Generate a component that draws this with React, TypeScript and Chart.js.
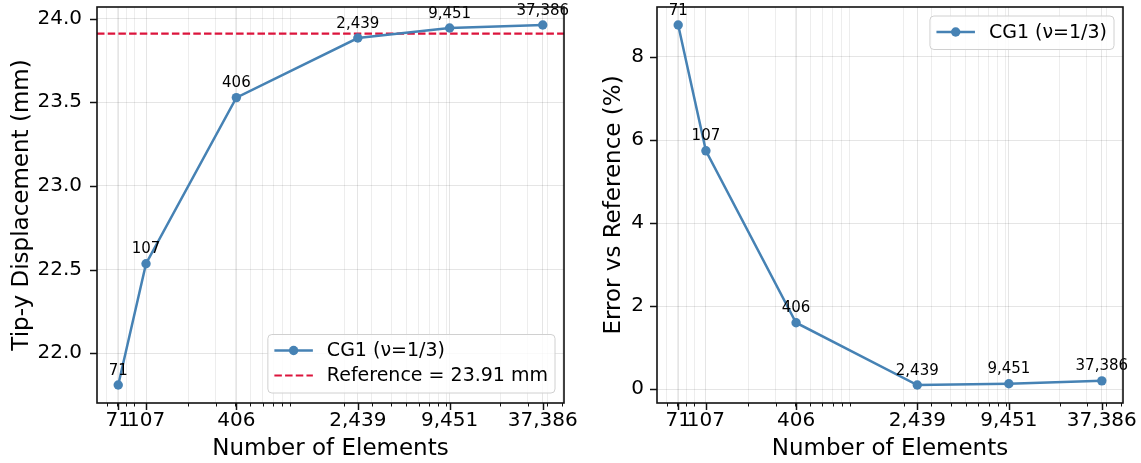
import React, { useEffect, useRef } from "react";
import { Chart, registerables } from "chart.js";

Chart.register(...registerables);

// ---------------- data ----------------
const elements = [71, 107, 406, 2439, 9451, 37386];
const tipDisplacement = [21.81, 22.535, 23.528, 23.884, 23.944, 23.962];
const errorPercent = [8.77, 5.74, 1.6, 0.1, 0.13, 0.2];
const referenceValue = 23.91;
const leftYTicks = [22.0, 22.5, 23.0, 23.5, 24.0];
const rightYTicks = [0, 2, 4, 6, 8];
const minorSubs = [2, 3, 4, 5, 6, 7, 8, 9];

const seriesLabel = "CG1 (ν=1/3)";
const referenceLabel = "Reference = 23.91 mm";
const xTitle = "Number of Elements";
const leftYTitle = "Tip-y Displacement (mm)";
const rightYTitle = "Error vs Reference (%)";

// ---------------- style ----------------
const FONT = "DejaVu Sans";
const TEXT = "#000000";
const BLUE = "#4682b4";
const RED = "#dc143c";
const GRID_MAJOR = "rgba(0,0,0,0.10)";
const GRID_MINOR = "rgba(0,0,0,0.07)";
const TICK_SIZE = 20;
const TITLE_SIZE = 23;
const LEGEND_SIZE = 19;
const ANNOT_SIZE = 15;

const fmtInt = (v: number) => v.toLocaleString("en-US");

function logBounds(values: number[]) {
  const lo = Math.log10(Math.min(...values));
  const hi = Math.log10(Math.max(...values));
  const m = (hi - lo) * 0.05;
  return { min: Math.pow(10, lo - m), max: Math.pow(10, hi + m) };
}
function linBounds(values: number[]) {
  const lo = Math.min(...values);
  const hi = Math.max(...values);
  const m = (hi - lo) * 0.05;
  return { min: lo - m, max: hi + m };
}
function minorTicks(min: number, max: number) {
  const out: number[] = [];
  for (let d = Math.floor(Math.log10(min)); d <= Math.ceil(Math.log10(max)); d++) {
    for (const s of minorSubs) {
      const v = s * Math.pow(10, d);
      if (v >= min && v <= max) out.push(v);
    }
  }
  return out;
}

type LegendItem = { label: string; kind: "series" | "ref" };

type PanelCfg = {
  yValues: number[];
  yTicks: number[];
  yFmt: (v: number) => string;
  yTitle: string;
  yAxisWidth: number;
  yTitlePad: number;
  yTickPad: number;
  paddingRight: number;
  legendItems: LegendItem[];
  legendCorner: "lower right" | "upper right";
  reference?: number;
};

function makeChart(canvas: HTMLCanvasElement, cfg: PanelCfg) {
  const xb = logBounds(elements);
  const yb = linBounds(cfg.yValues);
  const majorSet = new Set(elements);
  const xTickValues = [...elements, ...minorTicks(xb.min, xb.max)].sort((a, b) => a - b);

  const panelPlugin = {
    id: "panelDeco",
    beforeDatasetsDraw(chart: any) {
      if (cfg.reference === undefined) return;
      const { ctx, chartArea: a, scales } = chart;
      const y = scales.y.getPixelForValue(cfg.reference);
      ctx.save();
      ctx.beginPath();
      ctx.rect(a.left, a.top, a.right - a.left, a.bottom - a.top);
      ctx.clip();
      ctx.strokeStyle = RED;
      ctx.lineWidth = 2.2;
      ctx.setLineDash([7.5, 3.2]);
      ctx.beginPath();
      ctx.moveTo(a.left, y);
      ctx.lineTo(a.right, y);
      ctx.stroke();
      ctx.restore();
    },
    afterDatasetsDraw(chart: any) {
      const { ctx } = chart;
      const meta = chart.getDatasetMeta(0);
      ctx.save();
      ctx.font = `${ANNOT_SIZE}px "${FONT}"`;
      ctx.fillStyle = TEXT;
      ctx.textAlign = "center";
      ctx.textBaseline = "alphabetic";
      meta.data.forEach((pt: any, i: number) => {
        ctx.fillText(fmtInt(elements[i]), pt.x, pt.y - 10.5);
      });
      ctx.restore();
    },
    afterDraw(chart: any) {
      const { ctx, chartArea: a, scales } = chart;
      ctx.save();
      // tick marks
      ctx.strokeStyle = "#111";
      scales.x.ticks.forEach((t: any) => {
        const major = majorSet.has(t.value);
        const px = Math.round(scales.x.getPixelForValue(t.value)) + 0.5;
        ctx.lineWidth = major ? 1.5 : 1;
        ctx.beginPath();
        ctx.moveTo(px, a.bottom);
        ctx.lineTo(px, a.bottom + (major ? 7 : 3.5));
        ctx.stroke();
      });
      scales.y.ticks.forEach((t: any) => {
        const py = Math.round(scales.y.getPixelForValue(t.value)) + 0.5;
        ctx.lineWidth = 1.5;
        ctx.beginPath();
        ctx.moveTo(a.left, py);
        ctx.lineTo(a.left - 7, py);
        ctx.stroke();
      });
      // frame
      ctx.strokeStyle = "#111";
      ctx.lineWidth = 1.6;
      ctx.strokeRect(a.left, a.top, a.right - a.left, a.bottom - a.top);

      // legend
      ctx.font = `${LEGEND_SIZE}px "${FONT}"`;
      const textW = Math.max(...cfg.legendItems.map((it) => ctx.measureText(it.label).width));
      const lineStartPad = 6.5;
      const lineLen = 38.5;
      const gap = 14;
      const w = lineStartPad + lineLen + gap + textW + 7;
      const rowH = 25;
      const h = 16 + (cfg.legendItems.length - 1) * rowH + 17.5;
      const bx = a.right - 9 - w;
      const by = cfg.legendCorner === "lower right" ? a.bottom - 10 - h : a.top + 9;
      ctx.beginPath();
      (ctx as any).roundRect(bx, by, w, h, 4);
      ctx.fillStyle = "rgba(255,255,255,0.8)";
      ctx.fill();
      ctx.strokeStyle = "#d0d0d0";
      ctx.lineWidth = 1;
      ctx.stroke();
      cfg.legendItems.forEach((it, i) => {
        const cy = by + 16 + i * rowH;
        const x0 = bx + lineStartPad;
        ctx.save();
        if (it.kind === "series") {
          ctx.strokeStyle = BLUE;
          ctx.lineWidth = 2.5;
          ctx.beginPath();
          ctx.moveTo(x0, cy);
          ctx.lineTo(x0 + lineLen, cy);
          ctx.stroke();
          ctx.fillStyle = BLUE;
          ctx.beginPath();
          ctx.arc(x0 + lineLen / 2, cy, 4.7, 0, Math.PI * 2);
          ctx.fill();
        } else {
          ctx.strokeStyle = RED;
          ctx.lineWidth = 2.2;
          ctx.setLineDash([7.5, 3.2]);
          ctx.beginPath();
          ctx.moveTo(x0, cy);
          ctx.lineTo(x0 + lineLen, cy);
          ctx.stroke();
        }
        ctx.restore();
        ctx.fillStyle = TEXT;
        ctx.textAlign = "left";
        ctx.textBaseline = "middle";
        ctx.fillText(it.label, x0 + lineLen + gap, cy + 1);
      });
      ctx.restore();
    },
  };

  return new Chart(canvas, {
    type: "line",
    data: {
      datasets: [
        {
          label: seriesLabel,
          data: elements.map((x, i) => ({ x, y: cfg.yValues[i] })),
          borderColor: BLUE,
          backgroundColor: BLUE,
          borderWidth: 2.5,
          pointRadius: 4.7,
          pointBorderWidth: 0,
          pointBackgroundColor: BLUE,
          tension: 0,
          fill: false,
          clip: false as any,
        },
      ],
    },
    options: {
      animation: false,
      responsive: false,
      devicePixelRatio: 1,
      layout: { padding: { top: 7, right: cfg.paddingRight, left: 0, bottom: 0 } },
      plugins: { legend: { display: false }, tooltip: { enabled: false }, title: { display: false } },
      scales: {
        x: {
          type: "logarithmic",
          min: xb.min,
          max: xb.max,
          afterBuildTicks: (scale: any) => {
            scale.ticks = xTickValues.map((v) => ({ value: v }));
          },
          afterFit: (scale: any) => {
            scale.height = 60;
            scale.paddingLeft = 0;
            scale.paddingRight = 0;
          },
          ticks: {
            autoSkip: false,
            maxRotation: 0,
            minRotation: 0,
            padding: 6,
            color: TEXT,
            font: { family: FONT, size: TICK_SIZE },
            callback: (v: any) => (majorSet.has(v) ? fmtInt(v) : ""),
          },
          grid: {
            drawTicks: false,
            lineWidth: 1,
            color: (c: any) => (c.tick && majorSet.has(c.tick.value) ? GRID_MAJOR : GRID_MINOR),
          },
          border: { display: false },
          title: {
            display: true,
            text: xTitle,
            color: TEXT,
            font: { family: FONT, size: TITLE_SIZE },
            padding: { top: 0, bottom: 0 },
          },
        } as any,
        y: {
          type: "linear",
          min: yb.min,
          max: yb.max,
          afterBuildTicks: (scale: any) => {
            scale.ticks = cfg.yTicks.map((v) => ({ value: v }));
          },
          afterFit: (scale: any) => {
            scale.width = cfg.yAxisWidth;
            scale.paddingTop = 0;
            scale.paddingBottom = 0;
          },
          ticks: {
            padding: cfg.yTickPad,
            color: TEXT,
            font: { family: FONT, size: TICK_SIZE },
            callback: (v: any) => cfg.yFmt(Number(v)),
          },
          grid: { drawTicks: false, lineWidth: 1, color: GRID_MAJOR },
          border: { display: false },
          title: {
            display: true,
            text: cfg.yTitle,
            color: TEXT,
            font: { family: FONT, size: TITLE_SIZE },
            padding: { top: cfg.yTitlePad, bottom: 0 },
          },
        } as any,
      },
    } as any,
    plugins: [panelPlugin],
  });
}

export default function App() {
  const leftRef = useRef<HTMLCanvasElement>(null);
  const rightRef = useRef<HTMLCanvasElement>(null);

  useEffect(() => {
    const left = makeChart(leftRef.current!, {
      yValues: tipDisplacement,
      yTicks: leftYTicks,
      yFmt: (v) => v.toFixed(1),
      yTitle: leftYTitle,
      yAxisWidth: 97,
      yTitlePad: 8,
      yTickPad: 15,
      paddingRight: 36,
      legendItems: [
        { label: seriesLabel, kind: "series" },
        { label: referenceLabel, kind: "ref" },
      ],
      legendCorner: "lower right",
      reference: referenceValue,
    });
    const right = makeChart(rightRef.current!, {
      yValues: errorPercent,
      yTicks: rightYTicks,
      yFmt: (v) => String(Math.round(v)),
      yTitle: rightYTitle,
      yAxisWidth: 67,
      yTitlePad: 10,
      yTickPad: 13,
      paddingRight: 18,
      legendItems: [{ label: seriesLabel, kind: "series" }],
      legendCorner: "upper right",
    });
    return () => {
      left.destroy();
      right.destroy();
    };
  }, []);

  return (
    <div style={{ position: "absolute", left: 0, top: 0, width: 1141, height: 463, background: "#fff" }}>
      <canvas ref={leftRef} width={600} height={463} style={{ position: "absolute", left: 0, top: 0, display: "block" }} />
      <canvas ref={rightRef} width={551} height={463} style={{ position: "absolute", left: 590, top: 0, display: "block" }} />
    </div>
  );
}
